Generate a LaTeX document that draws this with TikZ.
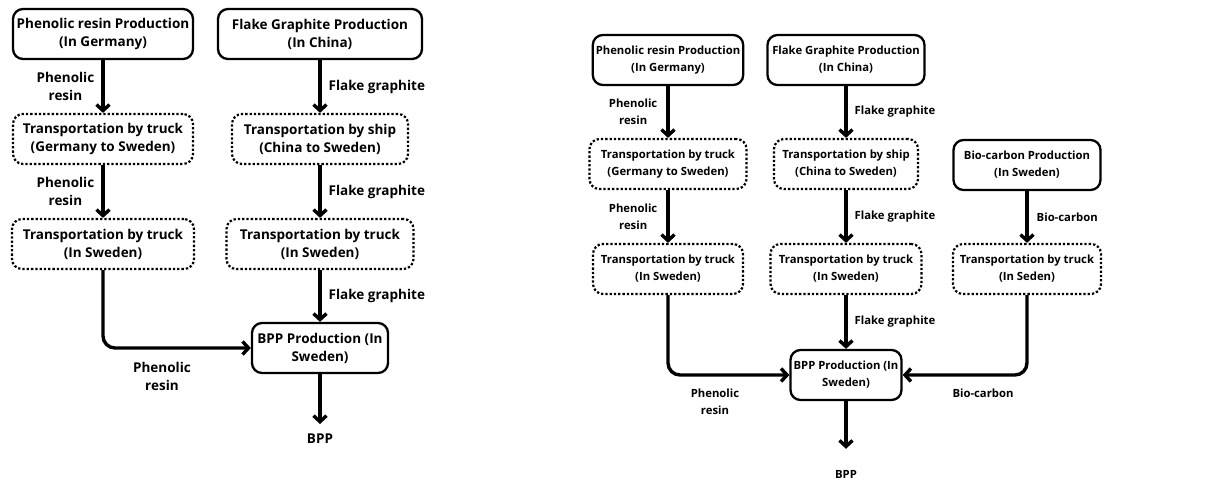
\documentclass[tikz,border=0pt]{standalone}
\usepackage{fontspec}
\setmainfont{Open Sans}
\usetikzlibrary{arrows.meta, positioning}

\tikzset{
  prodbox/.style={draw, line width=2.3pt, rounded corners=10pt, align=center, minimum height=50pt, inner xsep=3pt},
  transbox/.style={prodbox, dotted, line width=2.2pt},
  flow/.style={line width=3.4pt, -{Straight Barb[length=6pt,width=13pt]}},
  lbl/.style={align=center, inner sep=0pt},
  bigtxt/.style={font=\bfseries\fontsize{13.5}{18}\selectfont},
  smalltxt/.style={font=\bfseries\fontsize{11.3}{17}\selectfont}
}

\begin{document}
\begin{tikzpicture}[x=1pt, y=-1pt]
\useasboundingbox (0,0) rectangle (1218,483);

% first case: two sources
\begin{scope}[bigtxt]
\node[prodbox, minimum width=180pt] (phen1) at (103,34) {Phenolic resin Production\\(In Germany)};
\node[prodbox, minimum width=204pt] (graph1) at (320,34) {Flake Graphite Production\\(In China)};
\node[transbox, minimum width=180pt] (phen2) at (103,139) {Transportation by truck\\(Germany to Sweden)};
\node[transbox, minimum width=176pt] (graph2) at (320,139) {Transportation by ship\\(China to Sweden)};
\node[transbox, minimum width=182pt] (phen3) at (103,244) {Transportation by truck\\(In Sweden)};
\node[transbox, minimum width=187pt] (graph3) at (320,244) {Transportation by truck\\(In Sweden)};
\node[prodbox, minimum width=136pt] (bpp) at (320,348) {BPP Production (In\\Sweden)};
\node[lbl] (bppout) at (320,439) {BPP};

\draw[flow] (phen1) -- (phen2) node[midway, left=7pt, lbl] {Phenolic\\resin};
\draw[flow] (phen2) -- (phen3) node[midway, left=7pt, lbl] {Phenolic\\resin};
\draw[flow] (graph1) -- (graph2) node[midway, right=7pt, lbl] {Flake graphite};
\draw[flow] (graph2) -- (graph3) node[midway, right=7pt, lbl] {Flake graphite};
\draw[flow] (graph3) -- (bpp) node[midway, right=7pt, lbl] {Flake graphite};
\draw[flow, rounded corners=12pt] (phen3) |- (bpp);
\node[lbl] (resinlbl) at (162,376) {Phenolic\\resin};
\draw[flow, shorten >=10pt] (bpp) -- (bppout);
\end{scope}

% second case: bio-carbon added
\begin{scope}[smalltxt]
\node[prodbox, minimum width=147pt] (phenr1) at (668,60) {Phenolic resin Production\\(In Germany)};
\node[prodbox, minimum width=157pt] (graphr1) at (846,60) {Flake Graphite Production\\(In China)};
\node[transbox, minimum width=157pt] (phenr2) at (668,164) {Transportation by truck\\(Germany to Sweden)};
\node[transbox, minimum width=144pt] (graphr2) at (846,164) {Transportation by ship\\(China to Sweden)};
\node[prodbox, minimum width=147pt] (bior1) at (1027,165) {Bio-carbon Production\\(In Sweden)};
\node[transbox, minimum width=150pt] (phenr3) at (668,269) {Transportation by truck\\(In Sweden)};
\node[transbox, minimum width=151pt] (graphr3) at (846,269) {Transportation by truck\\(In Sweden)};
\node[transbox, minimum width=148pt] (bior2) at (1027,269) {Transportation by truck\\(In Seden)};
\node[prodbox, minimum width=111pt] (bppr) at (846,375) {BPP Production (In\\Sweden)};
\node[lbl] (bppoutr) at (846,474) {BPP};

\draw[flow] (phenr1) -- (phenr2) node[midway, left=9pt, lbl] {Phenolic\\resin};
\draw[flow] (phenr2) -- (phenr3) node[midway, left=9pt, lbl] {Phenolic\\resin};
\draw[flow] (graphr1) -- (graphr2) node[midway, right=7pt, lbl] {Flake graphite};
\draw[flow] (graphr2) -- (graphr3) node[midway, right=7pt, lbl] {Flake graphite};
\draw[flow] (graphr3) -- (bppr) node[midway, right=7pt, lbl] {Flake graphite};
\draw[flow] (bior1) -- (bior2) node[midway, right=8pt, lbl] {Bio-carbon};
\draw[flow, rounded corners=12pt] (phenr3) |- (bppr);
\draw[flow, rounded corners=12pt] (bior2) |- (bppr);
\node[lbl] (resinlblr) at (715,402) {Phenolic\\resin};
\node[lbl] (biolblr) at (983,393) {Bio-carbon};
\draw[flow, shorten >=21pt] (bppr) -- (bppoutr);
\end{scope}
\end{tikzpicture}
\end{document}
